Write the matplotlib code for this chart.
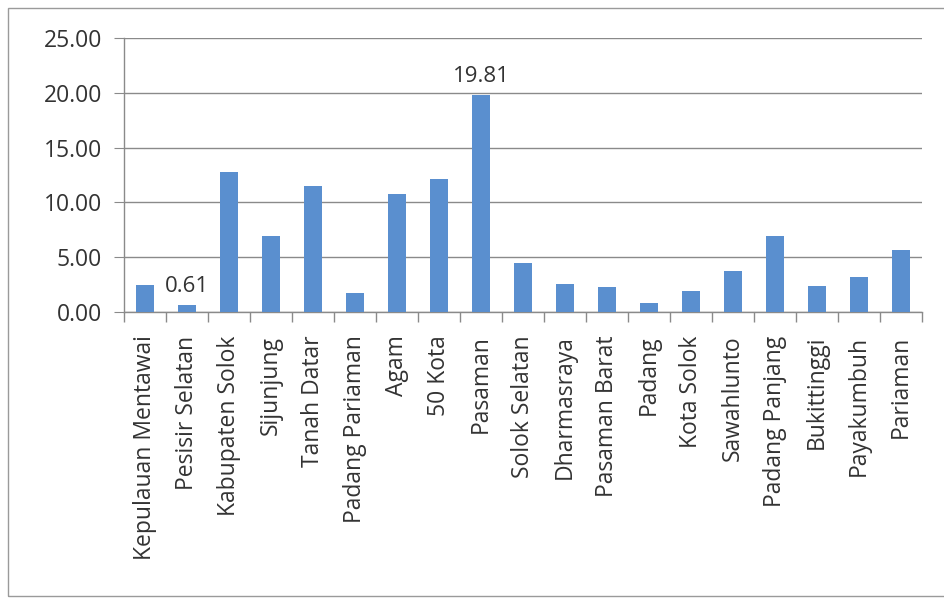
import matplotlib
matplotlib.use("Agg")
import matplotlib.pyplot as plt
import numpy as np
from matplotlib.patches import Rectangle

categories = ["Kepulauan Mentawai", "Pesisir Selatan", "Kabupaten Solok", "Sijunjung",
              "Tanah Datar", "Padang Pariaman", "Agam", "50 Kota", "Pasaman",
              "Solok Selatan", "Dharmasraya", "Pasaman Barat", "Padang", "Kota Solok",
              "Sawahlunto", "Padang Panjang", "Bukittinggi", "Payakumbuh", "Pariaman"]
values = [2.50, 0.61, 12.80, 6.90, 11.50, 1.75, 10.80, 12.15, 19.81,
          4.45, 2.60, 2.25, 0.80, 1.95, 3.75, 6.95, 2.35, 3.15, 5.70]
labeled = {"Pesisir Selatan": "0.61", "Pasaman": "19.81"}
yticks = [0, 5, 10, 15, 20, 25]

plt.rcParams['font.family'] = ['Open Sans', 'DejaVu Sans']
text_color = '#333333'
grid_color = '#8a8a8a'

fig = plt.figure(figsize=(9.44, 5.98), dpi=100)
fig.patch.set_facecolor('white')
fig.patches.append(Rectangle((8/944, 2/598), 1.2, 588/598, transform=fig.transFigure,
                             fill=False, edgecolor='#9a9a9a', linewidth=1.0))

ax = fig.add_axes([124/944, 286/598, 798/944, 274/598])
x = np.arange(len(categories))
ax.bar(x, values, width=0.42, color='#5A8FCF', zorder=3)

for i, (c, v) in enumerate(zip(categories, values)):
    if c in labeled:
        ax.annotate(labeled[c], (i, v), xytext=(0, 6), textcoords='offset points',
                    ha='center', va='bottom', fontsize=16, color=text_color)

ax.set_xlim(-0.5, len(categories) - 0.5)
ax.set_ylim(0, 25)
ax.set_yticks(yticks)
ax.set_yticklabels([f"{t:.2f}" for t in yticks], fontsize=16.5, color=text_color)
ax.yaxis.grid(True, color=grid_color, linewidth=1.0, zorder=0)
ax.tick_params(axis='y', length=7, color=grid_color, pad=9)

ax.set_xticks(x)
ax.set_xticklabels(categories, rotation=90, fontsize=16.5, color=text_color, va='top')
ax.set_xticks(np.arange(-0.5, len(categories), 1.0), minor=True)
ax.tick_params(axis='x', which='major', length=0, pad=17)
ax.tick_params(axis='x', which='minor', length=7, color=grid_color, width=1.0)

for s in ['top', 'right']:
    ax.spines[s].set_visible(False)
for s in ['left', 'bottom']:
    ax.spines[s].set_color(grid_color)
    ax.spines[s].set_linewidth(1.0)

fig.savefig("out.png", dpi=100, facecolor='white')
